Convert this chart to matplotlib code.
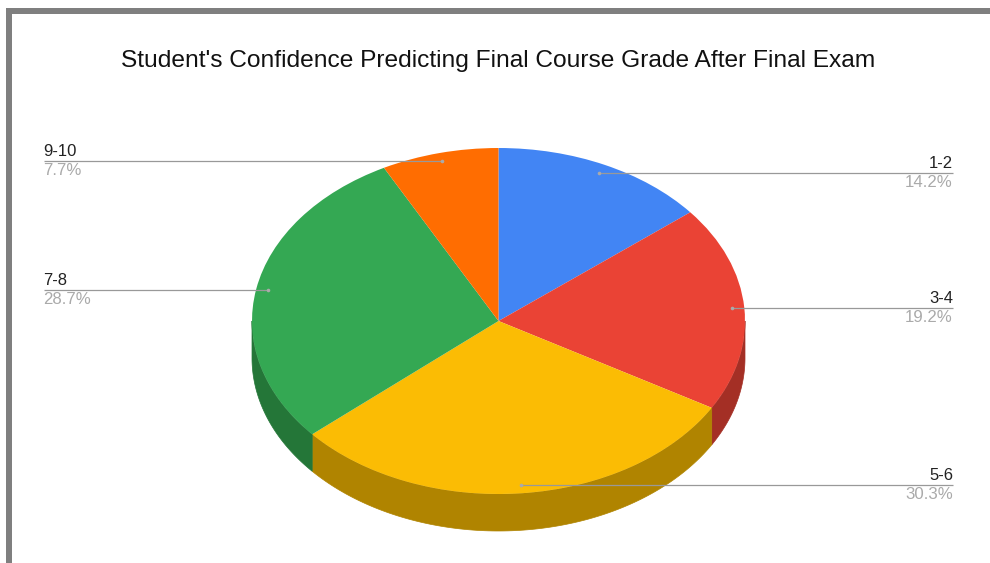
import numpy as np
import matplotlib
matplotlib.use("Agg")
import matplotlib.pyplot as plt
from matplotlib.patches import Rectangle, Polygon

plt.rcParams['font.family'] = ['Liberation Sans', 'DejaVu Sans']

title = "Student's Confidence Predicting Final Course Grade After Final Exam"
categories = ["1-2", "3-4", "5-6", "7-8", "9-10"]
values = [14.2, 19.2, 30.3, 28.7, 7.7]
colors = ["#4285f4", "#ea4335", "#fbbc04", "#34a853", "#ff6d01"]
side_colors = ["#2e5dab", "#a42f25", "#b08400", "#247638", "#b34c01"]

W, H = 990, 563
CX, CY, RX, RY, DEPTH = 498.5, 321, 246.5, 173, 37

fig = plt.figure(figsize=(W / 100, H / 100), dpi=100, facecolor="white")

# Overlay in pixel coordinates for frame and text
bg = fig.add_axes([0, 0, 1, 1], zorder=0)
bg.set_xlim(0, W)
bg.set_ylim(H, 0)
bg.axis("off")
bg.add_patch(Rectangle((6, 8), W - 6, 5.5, color="#7f7f7f", lw=0))
bg.add_patch(Rectangle((6, 8), 6, H - 8, color="#7f7f7f", lw=0))
bg.text(498.5, 60.5, title, ha="center", va="center", fontsize=17.62, color="#111111")

# Pie axes: one data unit equals the ellipse radius on each axis
ax = fig.add_axes([0, 0, 1, 1], zorder=1)
ax.patch.set_alpha(0)
fractions = np.array(values) / sum(values)
edges = np.concatenate([[0], np.cumsum(fractions)]) * 2 * np.pi  # clockwise from top

d = DEPTH / RY
for i in range(len(values)):
    # visible side wall: lower half of the ellipse only
    lo, hi = max(edges[i], np.pi / 2), min(edges[i + 1], 3 * np.pi / 2)
    if hi > lo:
        t = np.linspace(lo, hi, 120)
        x, y = np.sin(t), np.cos(t)
        pts = np.r_[np.c_[x, y], np.c_[x[::-1], y[::-1] - d]]
        ax.add_patch(Polygon(pts, closed=True, facecolor=side_colors[i], edgecolor=side_colors[i], lw=0.5))

ax.pie(values, colors=colors, startangle=90, counterclock=False, radius=1,
       wedgeprops=dict(linewidth=0))
ax.set_aspect("auto")
ax.set_xlim(-CX / RX, (W - CX) / RX)
ax.set_ylim((CY - H) / RY, CY / RY)
ax.axis("off")

# Leader lines and labels
top = fig.add_axes([0, 0, 1, 1], zorder=2)
top.patch.set_alpha(0)
top.set_xlim(0, W)
top.set_ylim(H, 0)
top.axis("off")
mids = (edges[:-1] + edges[1:]) / 2
for cat, val, m in zip(categories, values, mids):
    px = CX + 0.95 * RX * np.sin(m)
    py = CY - 0.95 * RY * np.cos(m)
    right = np.sin(m) > 0
    end = 953 if right else 44
    ha = "right" if right else "left"
    top.plot([px, end], [py, py], color="#999999", lw=0.9, solid_capstyle="butt")
    top.plot([px], [py], "o", color="#aaaaaa", ms=2.6, mew=0)
    top.text(end - (0 if right else 0.5), py - 2, cat, ha=ha, va="bottom", fontsize=12, color="#222222")
    top.text(end - (0 if right else 0.5), py + 2, f"{val}%", ha=ha, va="top", fontsize=12.1, color="#aaaaaa")

fig.savefig("out.png", dpi=100)
